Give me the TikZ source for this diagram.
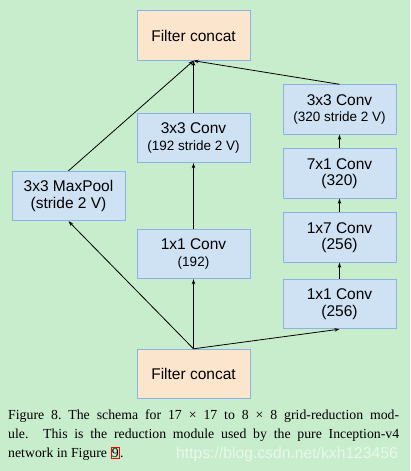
\documentclass[tikz,border=0pt]{standalone}
\usepackage{fontspec}
\setmainfont{Liberation Serif}
\newfontfamily\boxfont{Liberation Sans}
\usetikzlibrary{arrows.meta}
\definecolor{bgc}{RGB}{199,237,204}
\definecolor{bluefill}{RGB}{207,226,243}
\definecolor{peachfill}{RGB}{252,229,205}
\definecolor{bordc}{RGB}{138,178,230}
\newcommand{\smallf}{\fontsize{13.5}{15}\selectfont}
\tikzset{
  blk/.style={draw=bordc, line width=0.9pt, fill=bluefill, minimum width=113pt, minimum height=49.5pt,
    inner sep=0pt, align=center, font=\boxfont\fontsize{15.5}{16.5}\selectfont, text=black},
  cat/.style={blk, fill=peachfill},
  arr/.style={-{Stealth[length=5pt,width=3.5pt]}, line width=0.8pt, black}
}
\begin{document}
\begin{tikzpicture}[x=1pt,y=-1pt]
\fill[bgc] (0,0) rectangle (410,471);
\useasboundingbox (0,0) rectangle (410,471);
\node[cat] (top) at (193.5,35.5) {Filter concat};
\node[cat] (bot) at (193.5,374) {Filter concat};
\node[blk] (pool) at (68.5,196) {3x3 MaxPool\\(stride 2 V)};
\node[blk] (c3) at (193.5,138) {3x3 Conv\\{\smallf (192 stride 2 V)}};
\node[blk] (c1) at (193.5,254) {1x1 Conv\\{\smallf (192)}};
\node[blk] (r3) at (339.5,109.5) {3x3 Conv\\{\smallf (320 stride 2 V)}};
\node[blk] (r7) at (339.5,173.5) {7x1 Conv\\(320)};
\node[blk] (r17) at (339.5,237.5) {1x7 Conv\\(256)};
\node[blk] (r1) at (339.5,304) {1x1 Conv\\(256)};
\draw[arr] (bot.north) -- (pool.south);
\draw[arr] (bot.north) -- (c1.south);
\draw[arr] (bot.north) -- (r1.south);
\draw[arr] (c1.north) -- (c3.south);
\draw[arr] (r1.north) -- (r17.south);
\draw[arr] (r17.north) -- (r7.south);
\draw[arr] (r7.north) -- (r3.south);
\draw[arr] (pool.north) -- (top.south);
\draw[arr] (c3.north) -- (top.south);
\draw[arr] (r3.north) -- (top.south);
\node[anchor=north west, inner sep=0pt, text width=391pt, align=justify,
  font=\fontsize{13.8}{19}\selectfont] (cap) at (8,409.5)
  {\hyphenpenalty=10000\exhyphenpenalty=10000
   Figure 8.\ The schema for 17 × 17 to 8 × 8 grid-reduction mod-\linebreak
   ule. This is the reduction module used by the pure Inception-v4\linebreak
   network in Figure {\setlength{\fboxsep}{0.3pt}\setlength{\fboxrule}{1pt}\color{red}\fbox{\color{black}9}}.};
\node[anchor=base west, inner sep=0pt, text=white, text opacity=0.6,
  font=\boxfont\fontsize{15.7}{16}\selectfont] (wm) at (176,458) {https://blog.csdn.net/kxh123456};
\end{tikzpicture}
\end{document}
